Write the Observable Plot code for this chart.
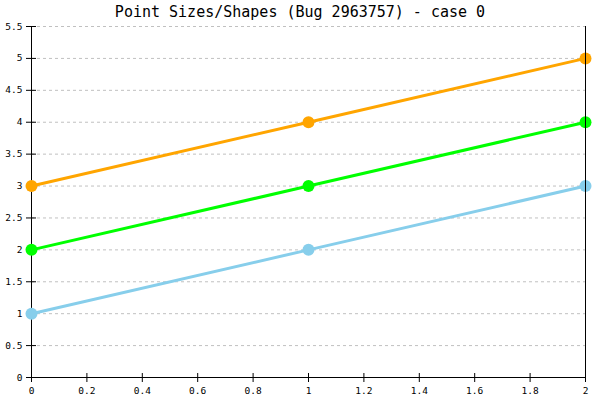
<!DOCTYPE html>
<html>
<head>
<meta charset="utf-8">
<script src="https://cdn.jsdelivr.net/npm/d3@7"></script>
<script src="https://cdn.jsdelivr.net/npm/@observablehq/plot@0.6"></script>
<style>
  html, body { margin: 0; padding: 0; background: #fff; }
  #wrap { position: relative; width: 600px; height: 400px; }
  #title { position: absolute; top: 0; left: 0; width: 600px; text-align: center;
           font-family: "DejaVu Sans Mono", monospace; font-size: 15px; line-height: 25px; color: #000; }
</style>
</head>
<body>
<div id="wrap"><div id="title">Point Sizes/Shapes (Bug 2963757) - case 0</div></div>
<script>
const xValues = [0, 1, 2];
const seriesNames = ["Series 1", "Series 2", "Series 3"];
const seriesColors = ["#87CEEB", "#00FF00", "#FFA500"];
const series1Values = [1, 2, 3];
const series2Values = [2, 3, 4];
const series3Values = [3, 4, 5];
const xTicks = [0, 0.2, 0.4, 0.6, 0.8, 1, 1.2, 1.4, 1.6, 1.8, 2];
const yTicks = [0, 0.5, 1, 1.5, 2, 2.5, 3, 3.5, 4, 4.5, 5, 5.5];
const gridTicks = [0.5, 1, 1.5, 2, 2.5, 3, 3.5, 4, 4.5, 5, 5.5];

const allValues = [series1Values, series2Values, series3Values];
const data = [];
seriesNames.forEach((s, i) => {
  xValues.forEach((x, j) => data.push({series: s, x, y: allValues[i][j]}));
});

const fmt = d => String(d);
const font = "DejaVu Sans Mono, monospace";
const chart = Plot.plot({
  width: 600,
  height: 400,
  marginTop: 26,
  marginBottom: 23,
  marginLeft: 31,
  marginRight: 15,
  style: {fontFamily: font, fontSize: "9.5px", background: "transparent", overflow: "visible"},
  x: {domain: [0, 2]},
  y: {domain: [0, 5.5]},
  color: {domain: seriesNames, range: seriesColors},
  marks: [
    Plot.ruleY(gridTicks, {stroke: "#c0c0c0", strokeDasharray: "3,3", strokeWidth: 1}),
    Plot.ruleY([0], {stroke: "#000"}),
    Plot.ruleX([0], {stroke: "#000"}),
    Plot.axisY({ticks: yTicks, text: null, tickSize: 10, dx: 5, stroke: "#000", label: null}),
    Plot.axisY({ticks: yTicks, tickFormat: fmt, tickSize: 0, tickPadding: 9, fill: "#000", label: null, fontFamily: font}),
    Plot.axisX({ticks: xTicks, text: null, tickSize: 9, dy: -4, stroke: "#000", label: null}),
    Plot.axisX({ticks: xTicks, tickFormat: fmt, tickSize: 0, tickPadding: 10, fill: "#000", label: null, fontFamily: font}),
    Plot.line(data, {x: "x", y: "y", z: "series", stroke: "series", strokeWidth: 3}),
    Plot.dot(data, {x: "x", y: "y", fill: "series", r: 6, stroke: null}),
    Plot.ruleX([2], {stroke: "#000"})
  ]
});
document.getElementById("wrap").prepend(chart);
</script>
</body>
</html>
